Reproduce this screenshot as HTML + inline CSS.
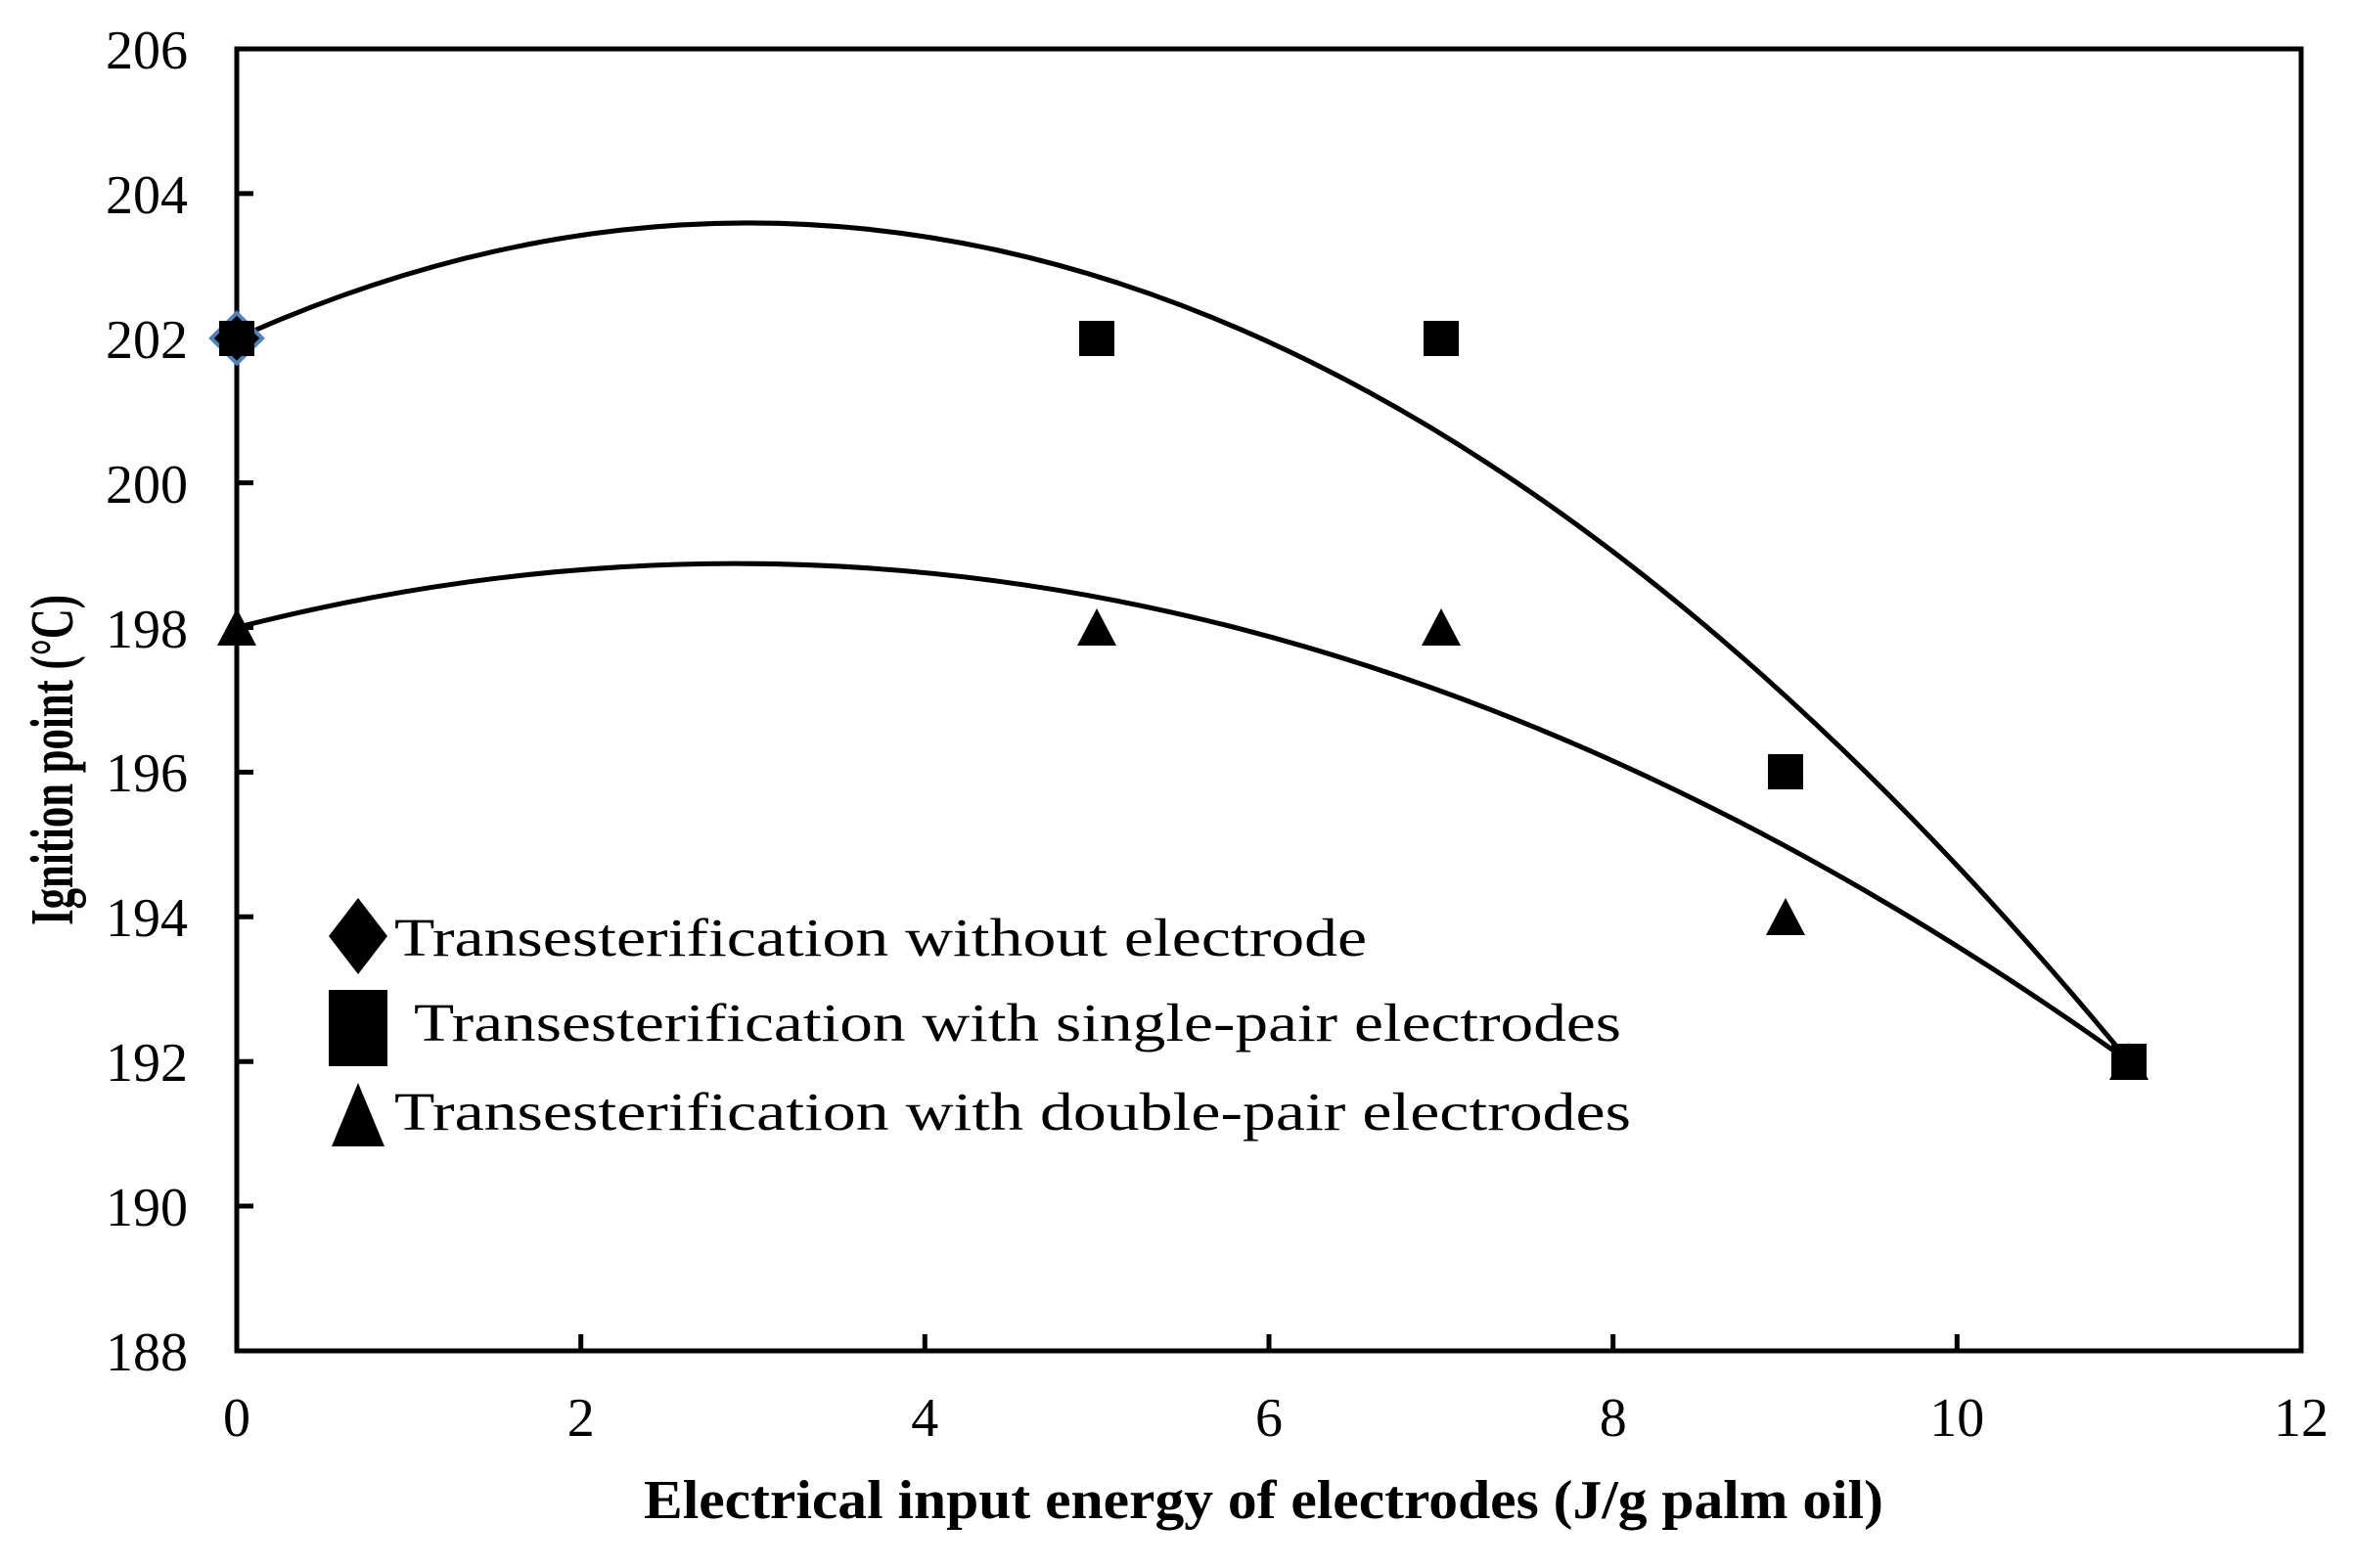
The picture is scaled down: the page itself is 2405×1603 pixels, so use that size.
<!DOCTYPE html>
<html><head><meta charset="utf-8"><style>html,body{margin:0;padding:0;background:#fff}svg{display:block}</style></head>
<body>
<svg width="2405" height="1603" viewBox="0 0 2405 1603" xmlns="http://www.w3.org/2000/svg" font-family="Liberation Serif, serif">
<rect width="2405" height="1603" fill="#fff"/>
<g stroke="#000" stroke-width="5" fill="none">
<rect x="242" y="50" width="2110" height="1331"/>
<path d="M242 197.9h17M242 345.8h17M242 493.6h17M242 641.5h17M242 789.4h17M242 937.3h17M242 1085.2h17M242 1233h17"/>
<path d="M593.7 1381v-17M945.3 1381v-17M1297 1381v-17M1648.7 1381v-17M2000.3 1381v-17"/>
</g>
<g font-size="56" text-anchor="end" fill="#000">
<text x="192" y="70">206</text><text x="192" y="218">204</text><text x="192" y="366">202</text><text x="192" y="514">200</text><text x="192" y="662">198</text><text x="192" y="809">196</text><text x="192" y="957">194</text><text x="192" y="1105">192</text><text x="192" y="1253">190</text><text x="192" y="1401">188</text>
</g>
<g font-size="56" text-anchor="middle" fill="#000">
<text x="242" y="1468">0</text><text x="593.7" y="1468">2</text><text x="945.3" y="1468">4</text><text x="1297" y="1468">6</text><text x="1648.7" y="1468">8</text><text x="2000.3" y="1468">10</text><text x="2352" y="1468">12</text>
</g>
<text x="658" y="1552" font-size="56" font-weight="bold" textLength="1267" lengthAdjust="spacingAndGlyphs">Electrical input  energy of electrodes  (J/g palm oil)</text>
<text transform="translate(74,946) rotate(-90)" font-size="62" font-weight="bold" textLength="338" lengthAdjust="spacingAndGlyphs">Ignition  point (°C)</text>
<g stroke="#000" stroke-width="5" fill="none">
<path d="M242 345.8 Q1209.1 -90 2176.1 1085.2"/>
<path d="M242 641.5 Q1209.1 393.8 2176.1 1085.2"/>
</g>
<g fill="#000">
<path d="M242 320 L268 345.8 L242 371.6 L216 345.8Z" fill="#000" stroke="#4f81bd" stroke-width="4"/>
<rect x="224" y="328" width="36" height="36"/>
<rect x="1103" y="328" width="36" height="36"/>
<rect x="1455" y="328" width="36" height="36"/>
<rect x="1807" y="771" width="36" height="36"/>
<rect x="2158" y="1067" width="36" height="36"/>
<path d="M242 622 L262 660 L222 660Z"/>
<path d="M1121 622 L1141 660 L1101 660Z"/>
<path d="M1473 622 L1493 660 L1453 660Z"/>
<path d="M1825 918 L1845 956 L1805 956Z"/>
<path d="M2176 1066 L2196 1104 L2156 1104Z"/>
<path d="M366 918 L396 957 L366 996 L336 957Z"/>
<rect x="336" y="1012" width="60" height="78"/>
<path d="M366 1107 L393 1172 L339 1172Z"/>
</g>
<g font-size="55" fill="#000">
<text x="403" y="977" textLength="994" lengthAdjust="spacingAndGlyphs">Transesterification without electrode</text>
<text x="423" y="1064" textLength="1234" lengthAdjust="spacingAndGlyphs">Transesterification with single-pair electrodes</text>
<text x="403" y="1155" textLength="1264" lengthAdjust="spacingAndGlyphs">Transesterification with double-pair electrodes</text>
</g>
</svg>
</body></html>
